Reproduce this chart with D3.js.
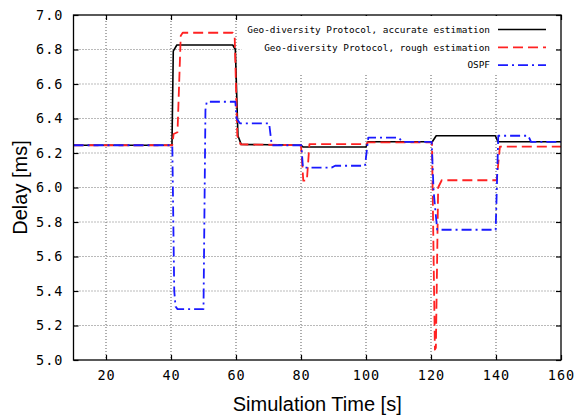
<!DOCTYPE html>
<html>
<head>
<meta charset="utf-8">
<script src="https://cdn.jsdelivr.net/npm/d3@7"></script>
<style>
  body { margin: 0; background: #fff; }
  #chart { width: 587px; height: 418px; }
  .tick-label { font-family: "DejaVu Sans Mono", monospace; font-size: 13.5px; letter-spacing: 1px; fill: #000; }
  .axis-title { font-family: "Liberation Sans", Arial, sans-serif; font-size: 20px; fill: #000; }
  .key-label { font-family: "DejaVu Sans Mono", monospace; font-size: 9.4px; fill: #000; }
</style>
</head>
<body>
<div id="chart"></div>
<script>
//Datos
const X_TICKS = [20, 40, 60, 80, 100, 120, 140, 160];
const Y_TICKS = [5.0, 5.2, 5.4, 5.6, 5.8, 6.0, 6.2, 6.4, 6.6, 6.8, 7.0];

const accurateT = [10, 40.3, 40.7, 41.8, 59.0, 59.8, 60.6, 61.6, 80.0, 80.6, 100.0, 100.6, 120.4, 121.6, 139.8, 140.6, 160];
const accurateV = [6.245, 6.245, 6.79, 6.826, 6.826, 6.80, 6.30, 6.25, 6.245, 6.235, 6.235, 6.265, 6.265, 6.30, 6.30, 6.265, 6.265];

const roughT = [10, 40.4, 40.8, 42.0, 43.0, 43.6, 59.0, 59.6, 60.4, 61.4, 80.0, 80.7, 81.8, 82.6, 100.0, 100.6, 120.3, 121.2, 121.5, 122.2, 123.3, 140.2, 141.2, 160];
const roughV = [6.245, 6.245, 6.31, 6.32, 6.88, 6.897, 6.897, 6.87, 6.30, 6.25, 6.245, 6.04, 6.04, 6.252, 6.252, 6.262, 6.262, 5.06, 5.07, 6.00, 6.042, 6.042, 6.237, 6.237];

const ospfT = [10, 40.4, 41.0, 41.4, 42.0, 50.0, 50.6, 51.0, 59.8, 60.2, 61.2, 70.2, 71.0, 80.1, 80.6, 81.0, 89.4, 90.5, 99.7, 100.7, 110.0, 111.2, 120.2, 120.8, 121.9, 139.9, 140.7, 149.9, 150.8, 160];
const ospfV = [6.245, 6.245, 5.40, 5.31, 5.295, 5.295, 6.45, 6.497, 6.497, 6.40, 6.372, 6.372, 6.245, 6.245, 6.115, 6.115, 6.115, 6.126, 6.126, 6.289, 6.289, 6.265, 6.265, 5.98, 5.755, 5.755, 6.30, 6.30, 6.265, 6.265];

const SERIES_NAMES = ['Geo-diversity Protocol, accurate estimation', 'Geo-diversity Protocol, rough estimation', 'OSPF'];

//Estilos
const COLOR_BLACK = '#000000',
COLOR_RED = '#ff2222',
COLOR_BLUE = '#1a1aff';

let series = [
    { name: SERIES_NAMES[0], t: accurateT, v: accurateV, color: COLOR_BLACK, dash: null, width: 1.6 },
    { name: SERIES_NAMES[1], t: roughT, v: roughV, color: COLOR_RED, dash: '10,5', width: 1.8 },
    { name: SERIES_NAMES[2], t: ospfT, v: ospfV, color: COLOR_BLUE, dash: '10,4,2,4', width: 1.8 }
];

let margin = {top: 15, right: 26, bottom: 58, left: 73.5},
    width = 587 - margin.left - margin.right,
    height = 418 - margin.top - margin.bottom;

let svg = d3.select('#chart')
    .append('svg')
        .attr('width', 587)
        .attr('height', 418)
    .append('g')
        .attr('transform', 'translate(' + margin.left + ',' + margin.top + ')');

let x = d3.scaleLinear()
    .domain([10, 160])
    .range([0, width]);

let y = d3.scaleLinear()
    .domain([5.0, 7.0])
    .range([height, 0]);

//Grid
let grid = svg.append('g').attr('class', 'grid');
grid.selectAll('.gx')
    .data(X_TICKS.filter(d => d < 160))
    .enter()
    .append('line')
    .attr('x1', d => x(d)).attr('x2', d => x(d))
    .attr('y1', 0).attr('y2', height)
    .attr('stroke', '#777').attr('stroke-width', 1.2)
    .attr('stroke-dasharray', '1,2');

grid.selectAll('.gy')
    .data(Y_TICKS.filter(d => d > 5.0 && d < 7.0))
    .enter()
    .append('line')
    .attr('x1', 0).attr('x2', width)
    .attr('y1', d => y(d)).attr('y2', d => y(d))
    .attr('stroke', '#777').attr('stroke-width', 1.2)
    .attr('stroke-dasharray', '1,2');

//Ejes con ticks hacia dentro
let xAxis = function(g) {
    g.call(d3.axisBottom(x).tickValues(X_TICKS).tickSize(-5).tickPadding(10).tickFormat(d3.format('d')));
    g.select('.domain').remove();
    g.selectAll('text').attr('class', 'tick-label').attr('font-family', null).attr('font-size', null);
}
let yAxis = function(g) {
    g.call(d3.axisLeft(y).tickValues(Y_TICKS).tickSize(-5).tickPadding(10).tickFormat(d3.format('.1f')));
    g.select('.domain').remove();
    g.selectAll('text').attr('class', 'tick-label').attr('font-family', null).attr('font-size', null);
}

svg.append('g').attr('transform', 'translate(0,' + height + ')').call(xAxis);
svg.append('g').call(yAxis);
svg.append('g')
    .call(d3.axisTop(x).tickValues(X_TICKS).tickSize(-5).tickFormat(''))
    .call(g => g.select('.domain').remove());
svg.append('g').attr('transform', 'translate(' + width + ',0)')
    .call(d3.axisRight(y).tickValues(Y_TICKS).tickSize(-5).tickFormat(''))
    .call(g => g.select('.domain').remove());

svg.selectAll('.tick line').attr('stroke', '#000').attr('stroke-width', 1.2);

//Leyenda (fondo opaco)
let keyX = 168, keyY = 1;
svg.append('rect')
    .attr('x', keyX).attr('y', keyY)
    .attr('width', width - keyX - 6).attr('height', 58)
    .attr('fill', '#fff');

//Lineas
let line = d3.line()
    .x(d => x(d[0]))
    .y(d => y(d[1]));

svg.selectAll('.serie')
    .data(series)
    .enter()
    .append('path')
    .attr('class', 'serie')
    .attr('d', s => line(s.t.map((t, i) => [t, s.v[i]])))
    .attr('fill', 'none')
    .attr('stroke', s => s.color)
    .attr('stroke-width', s => s.width)
    .attr('stroke-dasharray', s => s.dash)
    .attr('stroke-linejoin', 'round');

//Marco
svg.append('rect')
    .attr('x', 0).attr('y', 0)
    .attr('width', width).attr('height', height)
    .attr('fill', 'none')
    .attr('stroke', '#000')
    .attr('stroke-width', 1.3);

//Items de la leyenda
let key = svg.append('g');
series.forEach(function(s, i) {
    let yy = 14.5 + i * 17.8;
    key.append('text')
        .attr('class', 'key-label')
        .attr('x', 416.5)
        .attr('y', yy)
        .attr('dy', '0.35em')
        .attr('text-anchor', 'end')
        .text(s.name);
    key.append('line')
        .attr('x1', 424.5).attr('x2', 472.5)
        .attr('y1', yy).attr('y2', yy)
        .attr('stroke', s.color)
        .attr('stroke-width', s.width)
        .attr('stroke-dasharray', s.dash);
});

//Titulos de ejes
svg.append('text')
    .attr('class', 'axis-title')
    .attr('x', width / 2)
    .attr('y', height + 51)
    .attr('text-anchor', 'middle')
    .text('Simulation Time [s]');

svg.append('text')
    .attr('class', 'axis-title')
    .attr('transform', 'translate(' + (-47) + ',' + (height / 2) + ') rotate(-90)')
    .attr('text-anchor', 'middle')
    .text('Delay [ms]');
</script>
</body>
</html>
